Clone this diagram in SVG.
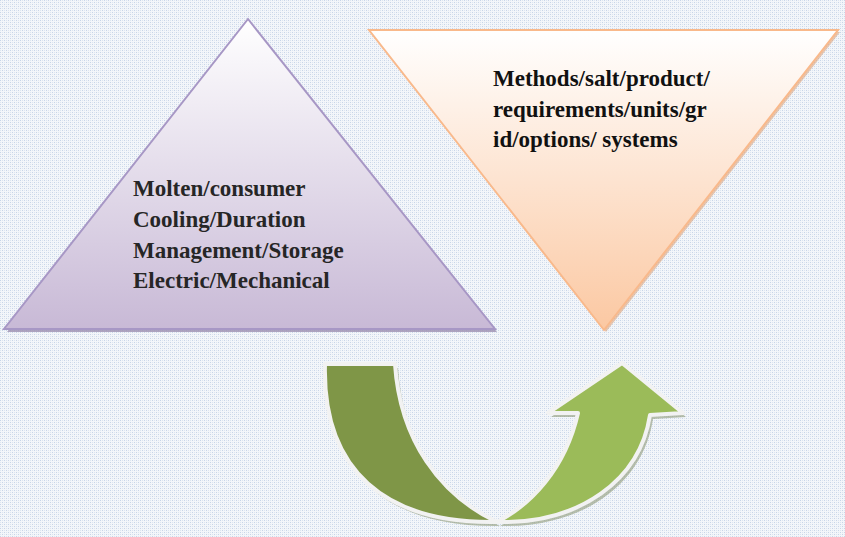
<svg xmlns="http://www.w3.org/2000/svg" width="845" height="537" viewBox="0 0 845 537">
<defs>
<pattern id="bg" width="4" height="4" patternUnits="userSpaceOnUse">
<rect width="4" height="4" fill="#f3f6fa"/>
<rect x="0" y="0" width="1" height="1" fill="#c8d5e8"/>
<rect x="2" y="2" width="1" height="1" fill="#c8d5e8"/>
<rect x="2" y="0" width="1" height="1" fill="#dde5f0"/>
<rect x="0" y="2" width="1" height="1" fill="#dde5f0"/>
</pattern>
<linearGradient id="gLeft" x1="0" y1="0" x2="0" y2="1">
<stop offset="0" stop-color="#ffffff"/>
<stop offset="1" stop-color="#c8b9d6"/>
</linearGradient>
<linearGradient id="gRight" x1="0" y1="0" x2="0" y2="1">
<stop offset="0" stop-color="#ffffff"/>
<stop offset="1" stop-color="#fbc8a2"/>
</linearGradient>
<style>
.t{font-family:"Liberation Serif","Times New Roman",serif;font-weight:bold;font-size:23px}
.shape-out{stroke:#f2f2f2;stroke-width:4;stroke-linejoin:round}
.shadow{fill:#8e9a78;opacity:0.6}
</style>
</defs>
<rect width="845" height="537" fill="url(#bg)"/>

<g id="node-left">
<polygon points="250,22 7,332 497,332" fill="#9b8fb0" opacity="0.8"/>
<polygon points="248,19 4,329 495,329" fill="url(#gLeft)" stroke="#a797c5" stroke-width="2"/>
<text class="t" fill="#262626">
<tspan x="133" y="196">Molten/consumer</tspan>
<tspan x="133" y="227">Cooling/Duration</tspan>
<tspan x="133" y="258">Management/Storage</tspan>
<tspan x="133" y="288">Electric/Mechanical</tspan>
</text>
</g>

<g id="node-right">
<polygon points="371,32 840,32 606,332" fill="#e0a57c" opacity="0.6"/>
<polygon points="369,30 838,30 604,330" fill="url(#gRight)" stroke="#f9b98b" stroke-width="2"/>
<text class="t" fill="#111">
<tspan x="493" y="86">Methods/salt/product/</tspan>
<tspan x="493" y="117">requirements/units/gr</tspan>
<tspan x="493" y="147">id/options/ systems</tspan>
</text>
</g>

<g id="connectors">
<g transform="translate(3,4)">
<path class="shadow" d="M325,364 L395,364 C400,440 440,495 497,522 C385,524 322,470 325,364 Z"/>
<path class="shadow" d="M497,522 C580,524 640,480 650,415 L683,413 L622,363 L548,413 L578,413 C565,470 530,505 497,522 Z"/>
</g>
<path class="shape-out" fill="#7f9647" d="M325,364 L395,364 C400,440 440,495 497,522 C385,524 322,470 325,364 Z"/>
<path class="shape-out" fill="#9bbb59" d="M497,522 C580,524 640,480 650,415 L683,413 L622,363 L548,413 L578,413 C565,470 530,505 497,522 Z"/>
</g>
</svg>
